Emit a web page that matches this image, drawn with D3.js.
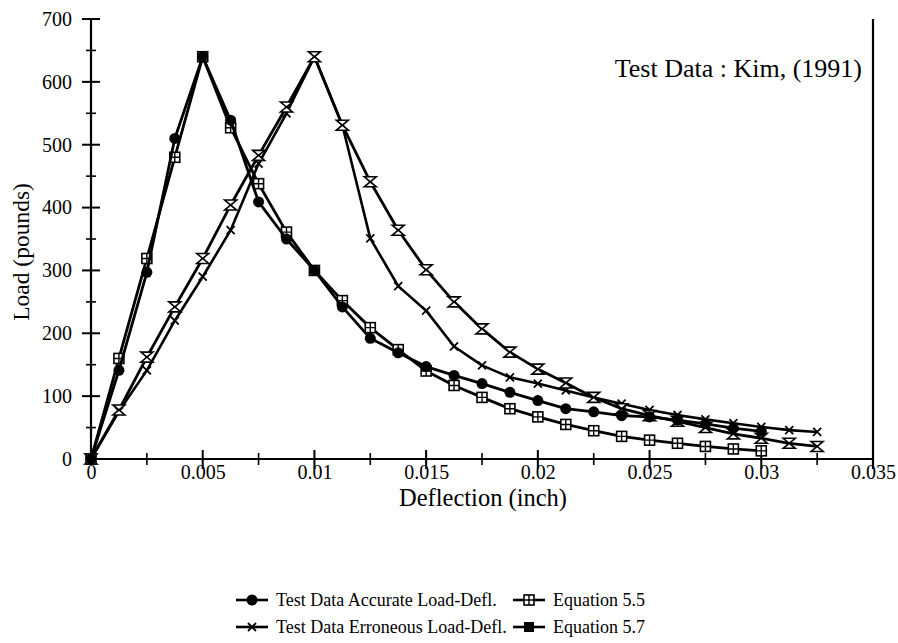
<!DOCTYPE html>
<html>
<head>
<meta charset="utf-8">
<script src="https://cdn.jsdelivr.net/npm/d3@7"></script>
<style>
  body { margin: 0; background: #fff; }
  svg text { font-family: "Liberation Serif", Tinos, "Times New Roman", Times, "DejaVu Serif", serif !important; fill: #000; }
</style>
</head>
<body>
<div id="wrapper"></div>
<script>
// deflection (inch) steps shared by all series
const deflection = [0, 0.00125, 0.0025, 0.00375, 0.005, 0.00625, 0.0075, 0.00875, 0.01,
  0.01125, 0.0125, 0.01375, 0.015, 0.01625, 0.0175, 0.01875, 0.02, 0.02125, 0.0225,
  0.02375, 0.025, 0.02625, 0.0275, 0.02875, 0.03, 0.03125, 0.0325];

const loadAccurate = [0, 141, 297, 510, 640, 539, 409, 350, 300, 242, 192, 169, 147, 133,
  120, 106, 93, 80, 75, 69, 67, 62, 56, 49, 44];
const loadEq55 = [0, 160, 319, 480, 640, 527, 438, 361, 300, 252, 209, 174, 140, 117, 98,
  80, 67, 55, 45, 36, 30, 25, 20, 16, 13];
const loadErroneous = [0, 76, 141, 220, 290, 364, 470, 550, 640, 531, 351, 275, 236, 179,
  149, 130, 120, 109, 98, 88, 78, 70, 63, 57, 51, 46, 43];
const loadEq57 = [0, 78, 162, 242, 319, 404, 483, 560, 640, 531, 441, 364, 301, 250, 207,
  170, 143, 121, 98, 80, 69, 60, 50, 40, 33, 25, 20];

const xTicks = [0, 0.005, 0.01, 0.015, 0.02, 0.025, 0.03, 0.035];
const xTickLabels = ["0", "0.005", "0.01", "0.015", "0.02", "0.025", "0.03", "0.035"];
const yTicks = [0, 100, 200, 300, 400, 500, 600, 700];

const seriesNames = ["Test Data Accurate Load-Defl.", "Equation 5.5",
  "Test Data Erroneous Load-Defl.", "Equation 5.7"];

const width = 898, height = 643;
const serif = "'Liberation Serif', Tinos, 'Times New Roman', Times, 'DejaVu Serif', serif";

const svg = d3.select("#wrapper").append("svg")
  .attr("width", width)
  .attr("height", height)
  .attr("font-family", serif);

const x = d3.scaleLinear().domain([0, 0.035]).range([91, 873]);
const y = d3.scaleLinear().domain([0, 700]).range([459, 19]);

// axes lines
svg.append("line")
  .attr("x1", x(0)).attr("x2", x(0)).attr("y1", y(700)).attr("y2", y(0))
  .attr("stroke", "#000").attr("stroke-width", 2.2);
svg.append("line")
  .attr("x1", x(0)).attr("x2", x(0.035)).attr("y1", y(0)).attr("y2", y(0))
  .attr("stroke", "#000").attr("stroke-width", 2.2);
svg.append("line")
  .attr("x1", x(0.035)).attr("x2", x(0.035)).attr("y1", y(700)).attr("y2", y(0) + 10)
  .attr("stroke", "#000").attr("stroke-width", 2.2);

// x axis labels
const xAxis = d3.axisBottom(x)
  .tickValues(xTicks)
  .tickSize(0)
  .tickPadding(6)
  .tickFormat((d, i) => xTickLabels[i]);
svg.append("g")
  .attr("transform", `translate(0,${y(0)})`)
  .call(xAxis)
  .attr("font-family", serif)
  .attr("font-size", 20)
  .call(g => g.select(".domain").remove());

// y axis labels
const yAxis = d3.axisLeft(y)
  .tickValues(yTicks)
  .tickSize(0)
  .tickPadding(19);
svg.append("g")
  .attr("transform", `translate(${x(0)},0)`)
  .call(yAxis)
  .attr("font-family", serif)
  .attr("font-size", 20)
  .call(g => g.select(".domain").remove());

// crossing tick marks
const xMinor = d3.range(0.0025, 0.035, 0.005);
svg.append("g").selectAll("line")
  .data(xTicks.slice(1, -1))
  .join("line")
  .attr("x1", d => x(d)).attr("x2", d => x(d))
  .attr("y1", y(0) - 9).attr("y2", y(0) + 10)
  .attr("stroke", "#000").attr("stroke-width", 2);
svg.append("g").selectAll("line")
  .data(xMinor)
  .join("line")
  .attr("x1", d => x(d)).attr("x2", d => x(d))
  .attr("y1", y(0) - 6).attr("y2", y(0) + 6)
  .attr("stroke", "#000").attr("stroke-width", 1.6);

const yMinor = d3.range(50, 700, 100);
svg.append("g").selectAll("line")
  .data(yTicks.slice(1))
  .join("line")
  .attr("x1", x(0) - 9).attr("x2", x(0) + 9)
  .attr("y1", d => y(d)).attr("y2", d => y(d))
  .attr("stroke", "#000").attr("stroke-width", 2);
svg.append("g").selectAll("line")
  .data(yMinor)
  .join("line")
  .attr("x1", x(0) - 5).attr("x2", x(0) + 5)
  .attr("y1", d => y(d)).attr("y2", d => y(d))
  .attr("stroke", "#000").attr("stroke-width", 1.6);

// axis titles
svg.append("text")
  .attr("x", 483).attr("y", 506)
  .attr("text-anchor", "middle")
  .attr("font-size", 24.5)
  .text("Deflection (inch)");
svg.append("text")
  .attr("transform", "translate(29,252) rotate(-90)")
  .attr("text-anchor", "middle")
  .attr("font-size", 23.5)
  .text("Load (pounds)");

svg.append("text")
  .attr("x", 862).attr("y", 77)
  .attr("text-anchor", "end")
  .attr("font-size", 26)
  .text("Test Data : Kim, (1991)");

// markers
function circleMarker(g) {
  g.append("circle").attr("r", 5.5).attr("fill", "#000");
}
function squareMarker(g) {
  g.append("rect").attr("x", -5).attr("y", -5).attr("width", 10).attr("height", 10)
    .attr("fill", "#fff").attr("stroke", "#000").attr("stroke-width", 1.6);
  g.append("path").attr("d", "M-5,0H5M0,-5V5").attr("stroke", "#000").attr("stroke-width", 1.4);
}
function xMarker(g) {
  g.append("path").attr("d", "M-4,-4L4,4M-4,4L4,-4")
    .attr("stroke", "#000").attr("stroke-width", 1.8);
}
function hourglassMarker(g) {
  g.append("path").attr("d", "M-6,-5H6L-6,5H6Z")
    .attr("fill", "#fff").attr("stroke", "#000").attr("stroke-width", 1.6);
}
function filledSquareMarker(g) {
  g.append("rect").attr("x", -5).attr("y", -5).attr("width", 10).attr("height", 10)
    .attr("fill", "#000");
}

const series = [
  { values: loadErroneous, marker: xMarker, width: 2.6 },
  { values: loadEq57, marker: hourglassMarker, width: 2.8 },
  { values: loadEq55, marker: squareMarker, width: 2.8 },
  { values: loadAccurate, marker: circleMarker, width: 2.8 },
];

const line = d3.line()
  .x(d => x(d[0]))
  .y(d => y(d[1]));

series.forEach(s => {
  const pts = s.values.map((v, i) => [deflection[i], v]);
  svg.append("path")
    .datum(pts)
    .attr("d", line)
    .attr("fill", "none")
    .attr("stroke", "#000")
    .attr("stroke-width", s.width)
    .attr("stroke-linejoin", "round");
  svg.append("g").selectAll("g")
    .data(pts)
    .join("g")
    .attr("transform", d => `translate(${x(d[0])},${y(d[1])})`)
    .each(function () { s.marker(d3.select(this)); });
});

// legend
const legendItems = [
  { name: seriesNames[0], marker: circleMarker, lx: 236, ly: 600 },
  { name: seriesNames[1], marker: squareMarker, lx: 513, ly: 600 },
  { name: seriesNames[2], marker: xMarker, lx: 236, ly: 627 },
  { name: seriesNames[3], marker: filledSquareMarker, lx: 513, ly: 627 },
];
const legend = svg.append("g").selectAll("g")
  .data(legendItems)
  .join("g")
  .attr("transform", d => `translate(${d.lx},${d.ly})`);
legend.append("line")
  .attr("x1", 0).attr("x2", 32).attr("y1", 0).attr("y2", 0)
  .attr("stroke", "#000").attr("stroke-width", 2.6);
legend.append("g")
  .attr("transform", "translate(16,0)")
  .each(function (d) { d.marker(d3.select(this)); });
legend.append("text")
  .attr("x", 40).attr("y", 6)
  .attr("font-size", 18)
  .text(d => d.name);
</script>
</body>
</html>
